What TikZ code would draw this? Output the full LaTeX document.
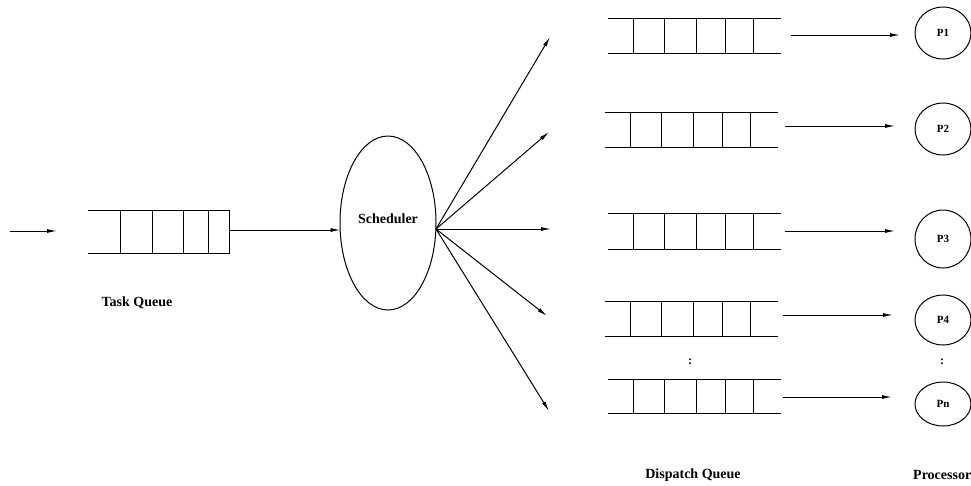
\documentclass[tikz,border=0pt]{standalone}
\usepackage{fontspec}
\setmainfont{Liberation Serif}
\usetikzlibrary{arrows.meta,shapes.geometric}

\tikzset{
  ln/.style={line width=1pt, black},
  flow/.style={ln, -{Latex[length=10pt,width=4pt]}},
  lbl/.style={font=\fontsize{14}{16}\selectfont\bfseries, inner sep=0pt},
  proc/.style={draw, ln, ellipse, minimum width=56pt, font=\fontsize{11}{13}\selectfont\bfseries, inner sep=0pt},
  sched/.style={draw, ln, ellipse, minimum width=96pt, minimum height=174pt, inner sep=0pt},
  vdots/.style={font=\fontsize{12}{14}\selectfont\bfseries, inner sep=0pt},
}

% queue with open ends: #1 = x shift, #2 = top y, #3 = bottom y
\newcommand{\openqueue}[3]{%
  \begin{scope}[xshift=#1pt]
    \draw[ln] (608,#2) -- (781,#2);
    \draw[ln] (608,#3) -- (781,#3);
    \foreach \vx in {633,664,696,725,753} \draw[ln] (\vx,#2) -- (\vx,#3);
  \end{scope}}

\begin{document}
\begin{tikzpicture}[x=1pt,y=-1pt]
  \useasboundingbox (0,0) rectangle (971,485);

  % incoming tasks
  \coordinate (src) at (10,231);
  \coordinate (srcend) at (57,231);
  \draw[flow] (src) -- (srcend);

  % task queue
  \draw[ln] (88,210) -- (229,210) -- (229,253) -- (88,253);
  \foreach \vx in {120,152,183,208} \draw[ln] (\vx,210) -- (\vx,253);
  \coordinate (tqout) at (229,230);
  \node[lbl] (tqlabel) at (137,303) {Task Queue};

  % scheduler
  \node[sched] (sch) at (388,223) {};
  \node[lbl] (schlabel) at (388,219) {Scheduler};
  \coordinate (tqin) at (340.5,230);
  \draw[flow] (tqout) -- (tqin);

  % fan-out from the scheduler
  \coordinate (fan) at (436,229);
  \coordinate (f1) at (550,37);
  \coordinate (f2) at (549,132);
  \coordinate (f3) at (551,229);
  \coordinate (f4) at (547,316);
  \coordinate (f5) at (549,411);
  \foreach \t in {f1,f2,f3,f4,f5} \draw[flow] (fan) -- (\t);

  % dispatch queues
  \openqueue{0}{18}{53}
  \openqueue{-3}{112}{147}
  \openqueue{0}{213}{249}
  \openqueue{-3}{301}{336}
  \openqueue{0}{379}{413}
  \node[vdots] (qdots) at (690,362) {:};
  \node[lbl] (dqlabel) at (693,475) {Dispatch Queue};

  % processors
  \node[proc, minimum height=52pt] (p1) at (943,33) {P1};
  \node[proc, minimum height=52pt] (p2) at (943,129) {P2};
  \node[proc, minimum height=58pt] (p3) at (943,239) {P3};
  \node[proc, minimum height=50pt] (p4) at (943,320) {P4};
  \node[proc, minimum height=44pt] (pn) at (943,404) {Pn};
  \node[vdots] (pdots) at (942,362) {:};
  \node[lbl, anchor=west] (plabel) at (913,475) {Processors};

  % queue to processor links
  \coordinate (a1) at (791,35);  \coordinate (b1) at (900,35);
  \coordinate (a2) at (785,126); \coordinate (b2) at (895,126);
  \coordinate (a3) at (785,231); \coordinate (b3) at (895,231);
  \coordinate (a4) at (783,315); \coordinate (b4) at (893,315);
  \coordinate (a5) at (783,397); \coordinate (b5) at (892,397);
  \foreach \k in {1,...,5} \draw[flow] (a\k) -- (b\k);
\end{tikzpicture}
\end{document}
